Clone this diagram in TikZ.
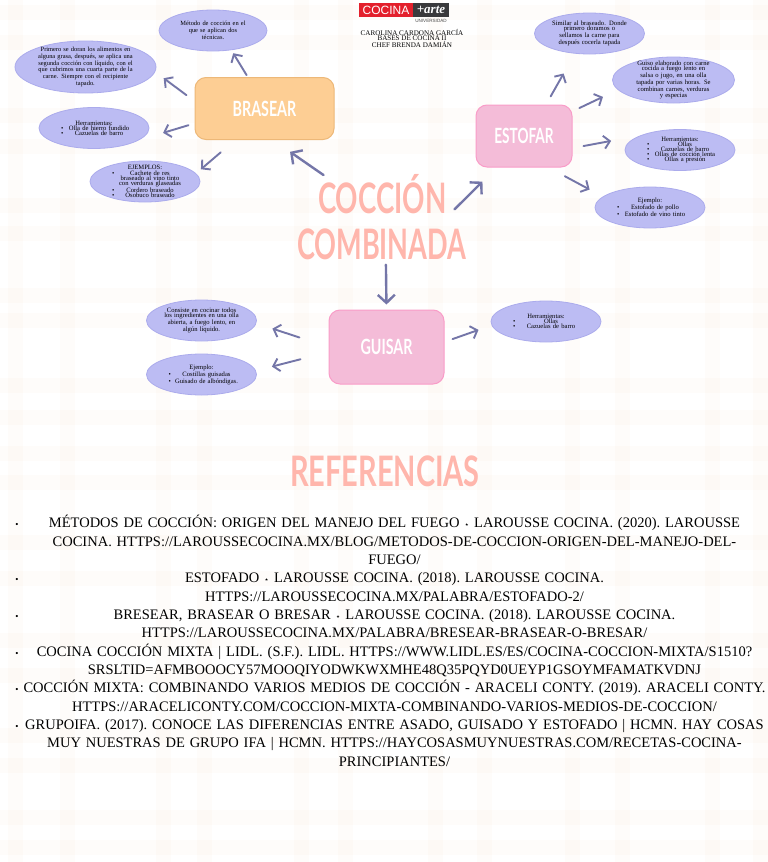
\documentclass[tikz,border=0pt]{standalone}
\usepackage{fontspec}
\setmainfont{Liberation Serif}
\newfontfamily\titlefont{Lato}
\newfontfamily\logofont{Liberation Sans}
\newfontfamily\symfont{DejaVu Sans}
\usetikzlibrary{shapes.geometric, arrows.meta}

\definecolor{bandcolor}{HTML}{F9E6D2}
\definecolor{ovalfill}{HTML}{BCBCF3}
\definecolor{ovalline}{HTML}{ABABEC}
\definecolor{arrowcolor}{HTML}{7476A8}
\definecolor{titlecolor}{HTML}{FFB6AC}
\definecolor{orangefill}{HTML}{FDCE94}
\definecolor{orangeline}{HTML}{EDB878}
\definecolor{pinkfill}{HTML}{F4BCD8}
\definecolor{pinkline}{HTML}{F99CC8}
\definecolor{logored}{HTML}{E3202C}
\definecolor{logodark}{HTML}{3A3A3C}

\newcommand{\itemline}[1]{\par\hbox to\hsize{\rlap{\textbullet}\hskip10pt\hss#1\hss}}
\newcommand{\plainline}[1]{\par\hbox to\hsize{\hskip10pt\hss#1\hss}}
\newcommand{\refbullet}[1]{\hbox to\hsize{\llap{\fontsize{9}{9}\selectfont\textbullet\hskip5pt}\hss#1\hss}}
\newcommand{\refline}[1]{\hbox to\hsize{\hss#1\hss}}
\newcommand{\refstar}{{\symfont\fontsize{8}{8}\selectfont ⋆}}

\tikzset{
    oval/.style={ellipse, draw=ovalline, fill=ovalfill, line width=0.8pt, inner sep=-12pt,
        minimum width=110pt, minimum height=41pt, align=center, text width=66pt, text=black},
    tightlines/.style={font=\fontsize{6.6}{5.1}\selectfont},
    looselines/.style={font=\fontsize{6.4}{6.9}\selectfont},
    topicbox/.style={rectangle, rounded corners=11pt, line width=1pt, text=white, inner sep=0pt,
        font=\titlefont\bfseries\fontsize{21}{21}\selectfont},
    titletext/.style={text=titlecolor, inner sep=0pt, text height=30pt, text depth=0pt,
        align=center, font=\titlefont\bfseries\fontsize{42}{42}\selectfont},
    bigarrow/.style={draw=arrowcolor, line width=2.4pt, line cap=round, -{Straight Barb[length=8pt,width=17pt,line width=2.4pt]}},
    smallarrow/.style={draw=arrowcolor, line width=1.9pt, line cap=round, -{Straight Barb[length=6pt,width=13pt,line width=1.9pt]}}
}

\begin{document}
\begin{tikzpicture}[x=1pt,y=-1pt]
    % Define dimensions
    \def\pagewidth{768}
    \def\pageheight{862}
    \def\bandwidth{15}
    \useasboundingbox (0,0) rectangle (\pagewidth,\pageheight);
    \fill[white] (0,0) rectangle (\pagewidth,\pageheight);
    % Draw plaid paper behind everything
    \foreach \x in {15,67,163,204,301,345,435,484,572,622,712,760}
        \fill[bandcolor,opacity=0.11] (\x-\bandwidth/2,0) rectangle (\x+\bandwidth/2,\pageheight);
    \foreach \y in {12,42,115,146,205,233,295,320,385,417,453,482,542,578,640,675,735,765,817,847}
        \fill[bandcolor,opacity=0.11] (0,\y-\bandwidth/2) rectangle (\pagewidth,\y+\bandwidth/2);

    % Logo and header
    \node[fill=logored, text=white, inner sep=0pt, minimum width=54pt, minimum height=14pt,
        font=\logofont\fontsize{12}{12}\selectfont] (logoleft) at (386,10) {COCINA};
    \node[fill=logodark, text=white, inner sep=0pt, minimum width=36pt, minimum height=14pt,
        font=\bfseries\itshape\fontsize{13}{13}\selectfont] (logoright) at (431,10) {+arte};
    \node[text=black!70, inner sep=0pt, font=\logofont\fontsize{4.6}{5}\selectfont] (logosub) at (431,20.5) {UNIVERSIDAD};
    \node[align=center, inner sep=0pt, text=black, font=\fontsize{7.1}{5.6}\selectfont] (header) at (412,38.5)
        {CAROLINA CARDONA GARCÍA\\BASES DE COCINA II\\CHEF BRENDA DAMIÁN};

    % Title
    \node[titletext, text width=127pt] (coccion) at (381.5,198) {\scalebox{0.66}[1]{COCCIÓN}};
    \node[titletext, text width=169pt] (combinada) at (381.5,244.5) {\scalebox{0.645}[1]{COMBINADA}};
    \node[titletext, text width=188pt] (referencias) at (384,471.5) {\scalebox{0.69}[1]{REFERENCIAS}};

    % Topic boxes
    \node[topicbox, draw=orangeline, fill=orangefill, minimum width=139pt, minimum height=62pt] (brasear) at (264.5,108.5) {\scalebox{0.68}[1]{BRASEAR}};
    \node[topicbox, draw=pinkline, fill=pinkfill, minimum width=96pt, minimum height=62pt] (estofar) at (524,136) {\scalebox{0.65}[1]{ESTOFAR}};
    \node[topicbox, draw=pinkline, fill=pinkfill, minimum width=115pt, minimum height=74pt] (guisar) at (386.5,347) {\scalebox{0.68}[1]{GUISAR}};

    % Ovals around BRASEAR
    \node[oval, looselines, minimum width=108pt, text width=80pt] (metodo) at (213,30.5)
        {Método de cocción en el\\que se aplican dos\\técnicas.};
    \node[oval, looselines, minimum width=141pt, minimum height=52pt, text width=100pt] (primero) at (85.5,67)
        {Primero se doran los alimentos en\\alguna grasa, después, se aplica una\\segunda cocción con líquido, con el\\que cubrimos una cuarta parte de la\\carne. Siempre con el recipiente\\tapado.};
    \node[oval, tightlines] (herramientasa) at (94,128)
        {Herramientas:\itemline{Olla de hierro fundido}\itemline{Cazuelas de barro}};
    \node[oval, tightlines] (ejemplos) at (145,181.5)
        {EJEMPLOS:\itemline{Cachete de res}\plainline{braseado al vino tinto}\plainline{con verduras glaseadas}\itemline{Cordero braseado}\itemline{Osobuco braseado}};

    % Ovals around ESTOFAR
    \node[oval, tightlines, text width=84pt] (similar) at (589.5,33.5)
        {Similar al braseado. Donde\\primero doramos o\\sellamos la carne para\\después cocerla tapada};
    \node[oval, tightlines, minimum width=122pt, minimum height=46pt, text width=84pt] (guiso) at (673.5,80)
        {Guiso elaborado con carne\\cocida a fuego lento en\\salsa o jugo, en una olla\\tapada por varias horas. Se\\combinan carnes, verduras\\y especias};
    \node[oval, tightlines] (herramientasb) at (680,150)
        {Herramientas:\itemline{Ollas}\itemline{Cazuelas de barro}\itemline{Ollas de cocción lenta}\itemline{Ollas a presión}};
    \node[oval, tightlines] (ejemplob) at (650,207.5)
        {Ejemplo:\itemline{Estofado de pollo}\itemline{Estofado de vino tinto}};

    % Ovals around GUISAR
    \node[oval, tightlines, text width=86pt] (consiste) at (201.5,320.5)
        {Consiste en cocinar todos\\los ingredientes en una olla\\abierta, a fuego lento, en\\algún líquido.};
    \node[oval, tightlines] (ejemploc) at (201.5,374.5)
        {Ejemplo:\itemline{Costillas guisadas}\itemline{Guisado de albóndigas.}};
    \node[oval, tightlines] (herramientasc) at (546,321.5)
        {Herramientas:\itemline{Ollas}\itemline{Cazuelas de barro}};

    % Arrows from the title
    \draw[bigarrow, shorten <=13.6pt, shorten >=20.8pt] (coccion.162.1) -- (brasear.285.6);
    \draw[bigarrow, shorten <=28.3pt, shorten >=20pt] (combinada.16.45) -- (estofar.229.5);
    \draw[bigarrow, shorten <=5pt, shorten >=5pt] (combinada.286.2) -- (guisar.north);

    % Arrows from the boxes
    \draw[smallarrow, shorten <=2.2pt, shorten >=3.6pt] (brasear.118) -- (metodo.313);
    \draw[smallarrow, shorten <=10pt, shorten >=10.6pt] (brasear.174) -- (primero.356);
    \draw[smallarrow, shorten <=6.3pt, shorten >=25pt] (brasear.192) -- (herramientasa.345);
    \draw[smallarrow, shorten <=19pt, shorten >=6.4pt] (brasear.227.6) -- (ejemplos.9.6);
    \draw[smallarrow, shorten <=9.3pt, shorten >=22.8pt] (estofar.55.5) -- (similar.234.7);
    \draw[smallarrow, shorten <=7.6pt, shorten >=16.4pt] (estofar.27.5) -- (guiso.190.8);
    \draw[smallarrow, shorten <=11.2pt, shorten >=29.5pt] (estofar.346) -- (herramientasb.160.5);
    \draw[smallarrow, shorten <=18.4pt, shorten >=14.9pt] (estofar.308.9) -- (ejemplob.167.8);
    \draw[smallarrow, shorten <=30.6pt, shorten >=16.9pt] (guisar.180) -- (consiste.357.7);
    \draw[smallarrow, shorten <=28.9pt, shorten >=16.5pt] (guisar.185) -- (ejemploc.4.6);
    \draw[smallarrow, shorten <=8.5pt, shorten >=13.8pt] (guisar.5.2) -- (herramientasc.184.2);

    % References
    \node[anchor=north, inner sep=0pt, text width=742pt, text=black, font=\frenchspacing\fontsize{14.5}{18.35}\selectfont] (reflist) at (394.5,515) {%
        \refbullet{MÉTODOS DE COCCIÓN: ORIGEN DEL MANEJO DEL FUEGO \refstar\ LAROUSSE COCINA. (2020). LAROUSSE}
        \refline{COCINA. HTTPS://LAROUSSECOCINA.MX/BLOG/METODOS-DE-COCCION-ORIGEN-DEL-MANEJO-DEL-}
        \refline{FUEGO/}
        \refbullet{ESTOFADO \refstar\ LAROUSSE COCINA. (2018). LAROUSSE COCINA.}
        \refline{HTTPS://LAROUSSECOCINA.MX/PALABRA/ESTOFADO-2/}
        \refbullet{BRESEAR, BRASEAR O BRESAR \refstar\ LAROUSSE COCINA. (2018). LAROUSSE COCINA.}
        \refline{HTTPS://LAROUSSECOCINA.MX/PALABRA/BRESEAR-BRASEAR-O-BRESAR/}
        \refbullet{COCINA COCCIÓN MIXTA | LIDL. (S.F.). LIDL. HTTPS://WWW.LIDL.ES/ES/COCINA-COCCION-MIXTA/S1510?}
        \refline{SRSLTID=AFMBOOOCY57MOOQIYODWKWXMHE48Q35PQYD0UEYP1GSOYMFAMATKVDNJ}
        \refbullet{COCCIÓN MIXTA: COMBINANDO VARIOS MEDIOS DE COCCIÓN - ARACELI CONTY. (2019). ARACELI CONTY.}
        \refline{HTTPS://ARACELICONTY.COM/COCCION-MIXTA-COMBINANDO-VARIOS-MEDIOS-DE-COCCION/}
        \refbullet{GRUPOIFA. (2017). CONOCE LAS DIFERENCIAS ENTRE ASADO, GUISADO Y ESTOFADO | HCMN. HAY COSAS}
        \refline{MUY NUESTRAS DE GRUPO IFA | HCMN. HTTPS://HAYCOSASMUYNUESTRAS.COM/RECETAS-COCINA-}
        \refline{PRINCIPIANTES/}};
\end{tikzpicture}
\end{document}
